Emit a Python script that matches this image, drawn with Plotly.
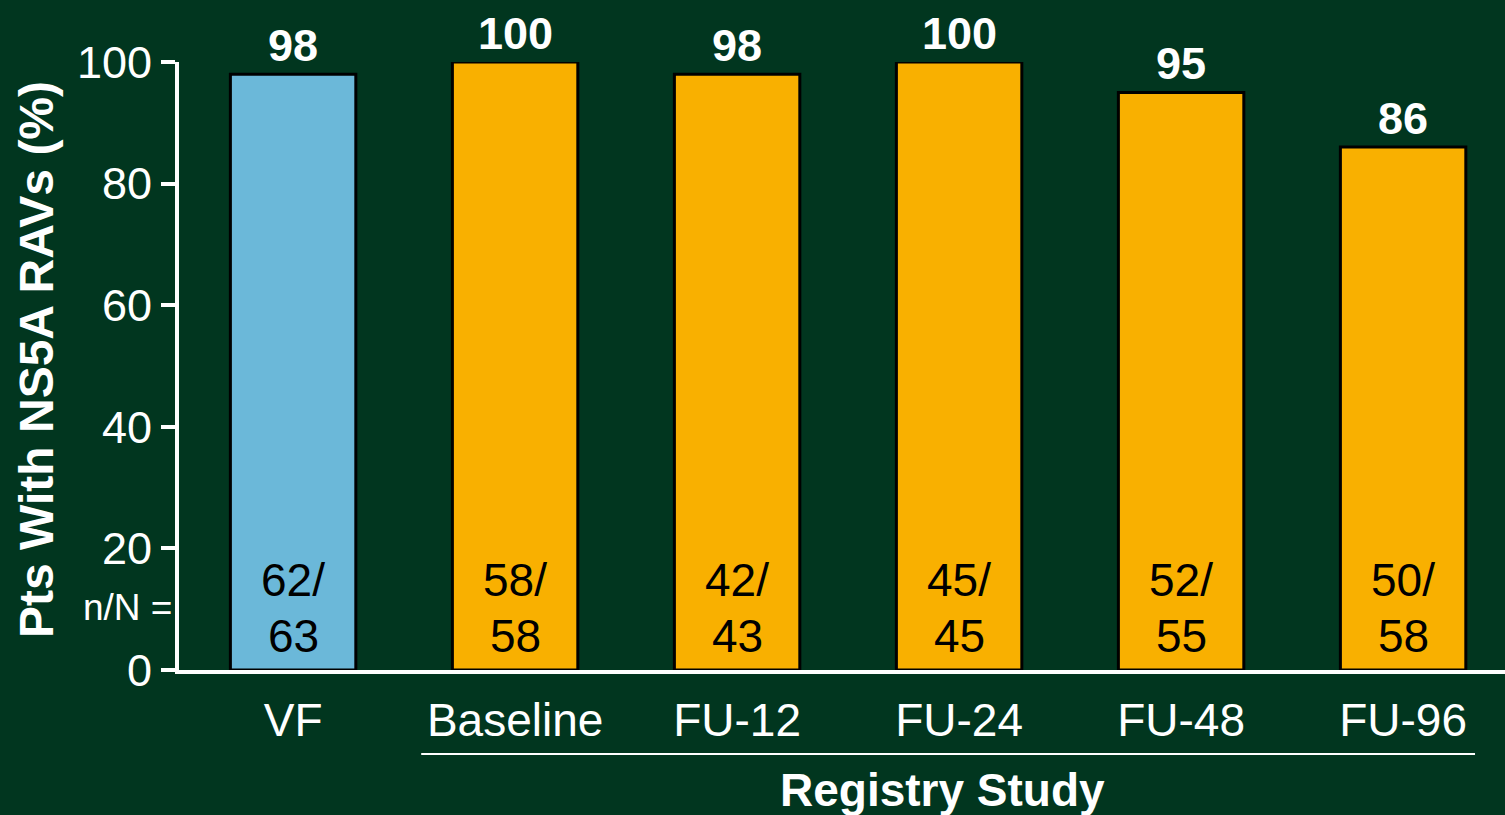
import plotly.graph_objects as go

# Bar categories and values
categories = ["VF", "Baseline", "FU-12", "FU-24", "FU-48", "FU-96"]
pct_with_ravs = [98, 100, 98, 100, 95, 86]
n_with = [62, 58, 42, 45, 52, 50]
n_total = [63, 58, 43, 45, 55, 58]
bar_colors = ["#6BB8D9", "#F9B000", "#F9B000", "#F9B000", "#F9B000", "#F9B000"]

BG = "#01361F"
FONT = "Liberation Sans, Arial, sans-serif"

fig = go.Figure()
fig.add_trace(go.Bar(
    x=categories,
    y=pct_with_ravs,
    width=0.565,
    marker=dict(color=bar_colors, line=dict(color="#000000", width=3)),
    hoverinfo="skip",
))

annotations = []
# value labels above bars
for cat, v in zip(categories, pct_with_ravs):
    annotations.append(dict(
        x=cat, y=v, xref="x", yref="y", text=f"<b>{v}</b>",
        showarrow=False, yanchor="bottom", yshift=1,
        font=dict(family=FONT, size=45, color="white"),
    ))
# n/N labels inside bars
for cat, n, N in zip(categories, n_with, n_total):
    annotations.append(dict(
        x=cat, y=0, xref="x", yref="y", text=f"{n}/",
        showarrow=False, yanchor="middle", yshift=90,
        font=dict(family=FONT, size=46, color="black"),
    ))
    annotations.append(dict(
        x=cat, y=0, xref="x", yref="y", text=f"{N}",
        showarrow=False, yanchor="middle", yshift=34,
        font=dict(family=FONT, size=46, color="black"),
    ))
annotations.append(dict(
    x=-0.0385, y=0, xref="paper", yref="y", text="n/N =",
    showarrow=False, xanchor="center", yanchor="middle", yshift=63,
    font=dict(family=FONT, size=37, color="white"),
))
# y-axis title
annotations.append(dict(
    x=(37 - 179) / 1326, y=0.51, xref="paper", yref="paper",
    text="<b>Pts With NS5A RAVs (%)</b>", textangle=-90,
    showarrow=False, xanchor="center", yanchor="middle",
    font=dict(family=FONT, size=48, color="white"),
))
# group label
annotations.append(dict(
    x=(943 - 179) / 1326, y=-0.197, xref="paper", yref="paper",
    text="<b>Registry Study</b>",
    showarrow=False, xanchor="center", yanchor="middle",
    font=dict(family=FONT, size=46, color="white"),
))

fig.update_layout(
    width=1505, height=815,
    margin=dict(l=179, r=0, t=62, b=145, pad=0),
    paper_bgcolor=BG, plot_bgcolor=BG,
    showlegend=False,
    annotations=annotations,
    shapes=[dict(
        type="line", xref="x", yref="paper",
        x0=0.577, x1=5.324, y0=-0.138, y1=-0.138,
        line=dict(color="white", width=2),
    )],
    xaxis=dict(
        range=[-0.514, 5.459], showgrid=False, zeroline=False,
        showline=True, linecolor="white", linewidth=4,
        ticks="", ticklabelstandoff=7,
        tickfont=dict(family=FONT, size=46, color="white"),
    ),
    yaxis=dict(
        range=[0, 100], tickvals=[0, 20, 40, 60, 80, 100],
        showgrid=False, zeroline=False,
        showline=True, linecolor="white", linewidth=4,
        ticks="outside", ticklen=14, tickwidth=4, tickcolor="white",
        tickfont=dict(family=FONT, size=45, color="white"),
    ),
)

fig.write_html("out.html")
